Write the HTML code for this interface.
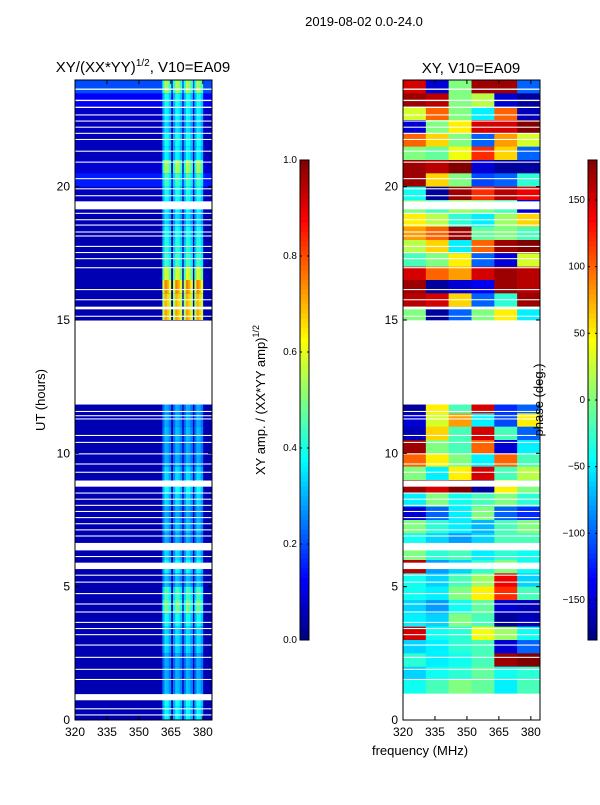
<!DOCTYPE html>
<html><head><meta charset="utf-8"><style>
body{margin:0;background:#fff;}
svg text{font-family:"Liberation Sans",sans-serif;}
</style></head><body>
<svg id="fig" width="600" height="800" xmlns="http://www.w3.org/2000/svg">
<text x="364" y="26" font-size="13" text-anchor="middle">2019-08-02 0.0-24.0</text>
<text x="143" y="72" font-size="15" text-anchor="middle">XY/(XX*YY)<tspan font-size="10" dy="-6">1/2</tspan><tspan dy="6">, V10=EA09</tspan></text>
<text x="471" y="73" font-size="15" text-anchor="middle">XY, V10=EA09</text>
<text transform="translate(45,400) rotate(-90)" font-size="13" text-anchor="middle">UT (hours)</text>
<text x="420" y="755" font-size="13" text-anchor="middle">frequency (MHz)</text>
<text transform="translate(265,400) rotate(-90)" font-size="13" text-anchor="middle">XY amp. / (XX*YY amp)<tspan font-size="9" dy="-6">1/2</tspan></text>
<g id="left"></g>
<g id="right"></g>
<text transform="translate(543,400) rotate(-90)" font-size="13" text-anchor="middle">phase (deg.)</text>
<g id="axes"></g>
</svg>
<script>
// ---- data ----
const xTicks=[320,335,350,365,380];
const yTicks=[0,5,10,15,20];
const ampTicks=[0.0,0.2,0.4,0.6,0.8,1.0];
const phaseTicks=[-150,-100,-50,0,50,100,150];
// flagged (white) time intervals [start,end] in hours
const flags=[[23.63,23.68],[23.21,23.26],[22.95,23.0],[22.67,22.71],[22.44,22.48],[22.21,22.25],[21.98,22.02],[21.75,21.79],[21.31,21.35],[20.9,20.94],[20.28,20.32],[19.9,19.94],[19.64,19.68],[19.15,19.45],[18.98,19.02],[18.74,18.78],[18.54,18.58],[18.28,18.32],[18.13,18.17],[17.74,17.78],[17.51,17.55],[17.28,17.32],[16.94,16.98],[16.12,16.16],[15.74,15.78],[15.4,15.5],[15.12,15.16],[11.83,14.98],[11.55,11.59],[11.39,11.43],[11.27,11.31],[10.65,10.69],[10.39,10.43],[9.96,10.0],[9.58,9.62],[9.27,9.31],[8.75,8.98],[8.49,8.53],[8.26,8.3],[8.03,8.07],[7.8,7.84],[7.57,7.61],[7.34,7.38],[7.11,7.15],[6.88,6.92],[6.36,6.64],[6.11,6.15],[5.66,5.9],[5.41,5.45],[5.15,5.19],[4.72,4.76],[4.33,4.37],[4.03,4.07],[3.64,3.68],[3.41,3.45],[3.18,3.22],[2.79,2.83],[2.33,2.37],[1.88,1.92],[1.5,1.54],[0.74,0.97],[0.4,0.44],[0.17,0.21]];
// spectral windows (MHz) in left panel
const windows=[[361,365],[366,370.2],[371,375.2],[376,380]];
const windowProfile=[0.75,1.0,0.95,0.8];
// amplitude level per half-hour row, from 24h down to 0h
const ampLevel=[0.55,0.4,0.38,0.35,0.4,0.38,0.55,0.45,0.4,0.38,0.35,0.4,0.42,0.45,0.6,0.75,0.7,0.72,0,0,0,0,0,0,0.3,0.3,0.32,0.3,0.3,0.35,0.4,0.35,0.3,0.32,0.3,0.35,0.38,0.32,0.45,0.5,0.4,0.35,0.35,0.3,0.3,0.32,0.4,0.38];
const ampBase=[0.2,0.12,0.07,0.06,0.06,0.06,0.08,0.15,0.06,0.06,0.05,0.05,0.05,0.05,0.05,0.05,0.05,0.05,0,0,0,0,0,0,0.05,0.05,0.05,0.05,0.05,0.05,0.05,0.05,0.05,0.05,0.05,0.05,0.05,0.05,0.05,0.05,0.05,0.05,0.05,0.05,0.05,0.05,0.05,0.05];
// phase (deg) per half-hour row (24h down to 0h), 6 frequency columns
const phase=[
[150,-150,0,170,170,-100],[170,160,0,20,-150,-170],[30,100,0,-50,100,-160],[-150,0,50,150,150,180],
[100,60,0,-100,80,30],[0,-10,40,120,60,-100],[170,160,180,-150,-170,-170],[170,60,0,-110,-100,-30],
[-40,-170,170,120,160,140],[0,-20,10,0,-20,-150],[50,20,-30,-50,10,60],[80,100,170,-10,0,-20],
[20,60,-50,100,170,180],[-20,0,50,-100,-150,30],[150,100,80,150,170,160],[170,-170,-150,-140,170,160],
[160,150,60,-100,-30,170],[0,-170,-100,0,50,-50],[null,null,null,null,null,null],[null,null,null,null,null,null],
[null,null,null,null,null,null],[null,null,null,null,null,null],[null,null,null,null,null,null],[-170,-100,0,50,-150,-100],
[-170,50,-20,150,-120,-100],[-150,30,80,-50,-110,50],[-160,60,-20,150,-20,-100],[170,0,-20,100,-150,-50],
[100,50,0,-50,100,-20],[0,-50,50,150,-20,20],[170,150,180,-170,50,0],[-50,0,-40,-20,0,-30],
[-150,-100,-50,0,-100,-120],[0,-30,-50,-70,-20,0],[-40,-60,-80,-60,-20,-20],[0,-30,-20,-50,-30,-40],
[160,-80,-60,-30,0,-40],[-40,-60,-20,10,140,-60],[-40,-50,0,50,120,-20],[-60,-80,-40,-10,-150,-160],
[-50,-60,0,-20,-170,-160],[150,-40,-30,40,10,-40],[-60,-50,-30,-20,-150,-100],[-30,-50,-40,-20,170,180],
[-60,-40,-30,-10,-40,-30],[-40,-20,0,-10,-50,-20]];

// ---- scales ----
const NS="http://www.w3.org/2000/svg";
const PL=[75,403], PW=137, PT=80, PB=720;
const fMin=320,fMax=384.3;
function xs(p,f){return PL[p]+(f-fMin)/(fMax-fMin)*PW;}
function ys(h){return PB-h/24*(PB-PT);}
function jet(v){v=Math.max(0,Math.min(1,v));
 const r=Math.max(0,Math.min(1,1.5-Math.abs(4*v-3))),g=Math.max(0,Math.min(1,1.5-Math.abs(4*v-2))),b=Math.max(0,Math.min(1,1.5-Math.abs(4*v-1)));
 return `rgb(${Math.round(r*255)},${Math.round(g*255)},${Math.round(b*255)})`;}
function rect(par,x,y,w,h,fill,name){const r=document.createElementNS(NS,'rect');
 r.setAttribute('x',x);r.setAttribute('y',y);r.setAttribute('width',w);r.setAttribute('height',h);r.setAttribute('fill',fill);
 
 
 par.appendChild(r);return r;}
function line(par,x1,y1,x2,y2,c,w){const l=document.createElementNS(NS,'line');
 l.setAttribute('x1',x1);l.setAttribute('y1',y1);l.setAttribute('x2',x2);l.setAttribute('y2',y2);l.setAttribute('stroke',c||'#000');l.setAttribute('stroke-width',w||1);
 
 
 par.appendChild(l);}
function text(par,x,y,s,anchor,size){const t=document.createElementNS(NS,'text');
 t.setAttribute('x',x);t.setAttribute('y',y);t.setAttribute('font-size',size||12);t.setAttribute('text-anchor',anchor||'middle');t.textContent=s;
 
 
 par.appendChild(t);}

const L=document.getElementById('left'),R=document.getElementById('right'),A=document.getElementById('axes');
const nRows=ampLevel.length, dh=24/nRows;
for(let i=0;i<nRows;i++){
 const h1=24-i*dh,h0=h1-dh,y=ys(h1),hh=ys(h0)-ys(h1)+0.3;
 rect(L,xs(0,fMin),y,PW,hh,jet(ampBase[i]),'amp-row');
 windows.forEach(w=>{const sw=(w[1]-w[0])/windowProfile.length;
  windowProfile.forEach((p,k)=>{const f=w[0]+k*sw;
   rect(L,xs(0,f),y,xs(0,f+sw)-xs(0,f)+0.3,hh,jet(ampLevel[i]*p),'amp-cell');});});
}
const nc=phase[0].length;
for(let i=0;i<phase.length;i++){
 const h1=24-i*dh,y=ys(h1),hh=ys(h1-dh)-y+0.3;
 for(let j=0;j<nc;j++){const v=phase[i][j];if(v===null)continue;
  const f0=fMin+j*(fMax-fMin)/nc,f1=f0+(fMax-fMin)/nc;
  rect(R,xs(1,f0),y,xs(1,f1)-xs(1,f0)+0.3,hh,jet((v+180)/360),'phase-cell');}
}
[L,R].forEach((g,p)=>flags.forEach(f=>rect(g,PL[p],ys(f[1]),PW,ys(f[0])-ys(f[1]),'#fff','flagged-interval')));
[0,1].forEach(p=>{
 const fr=rect(A,PL[p],PT,PW,PB-PT,'none','panel-frame');fr.setAttribute('stroke','#000');
 xTicks.forEach(t=>{const x=xs(p,t);line(A,x,PB,x,PB-4);line(A,x,PT,x,PT+4);text(A,x,PB+16,String(t));});
 yTicks.forEach(t=>{const y=ys(t);line(A,PL[p],y,PL[p]+4,y);line(A,PL[p]+PW,y,PL[p]+PW-4,y);text(A,PL[p]-5,y+4,String(t),'end');});
});
function cbar(x,vmin,vmax,ticks,fmt,name){
 const top=160,bot=640,n=100;
 for(let k=0;k<n;k++){const y=top+(bot-top)*k/n;rect(A,x,y,9,(bot-top)/n+0.3,jet(1-(k+0.5)/n),name+'-segment');}
 const fr=rect(A,x,top,9,bot-top,'none',name+'-frame');fr.setAttribute('stroke','#000');
 ticks.forEach(t=>{const y=bot-(t-vmin)/(vmax-vmin)*(bot-top);line(A,x,y,x+2,y);line(A,x+9,y,x+7,y);text(A,x-3,y+3,fmt(t),'end',10);});
}
cbar(300,0,1,ampTicks,t=>t.toFixed(1),'amp-colorbar');
cbar(588,-180,180,phaseTicks,t=>t<0?'\u2212'+(-t):String(t),'phase-colorbar');
</script>
</body></html>
